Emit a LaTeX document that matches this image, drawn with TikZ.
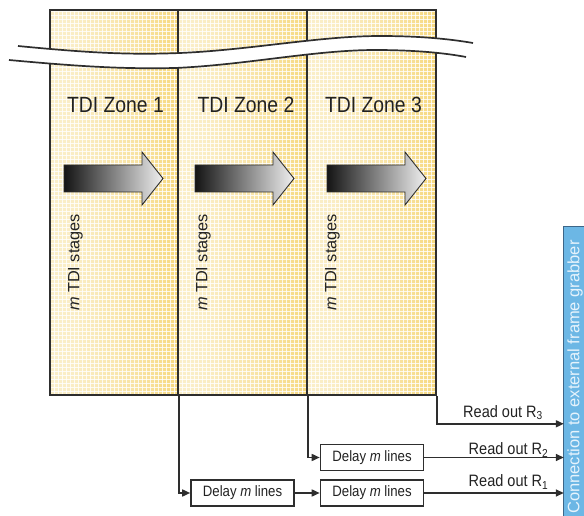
\documentclass[tikz,border=0pt]{standalone}
\usepackage{fontspec}
\setmainfont{Liberation Sans}
\newfontfamily\nf{Liberation Sans}[FakeStretch=0.88]
\usetikzlibrary{arrows.meta,calc}
\definecolor{txt}{HTML}{222222}
\definecolor{edge}{HTML}{2E2E2E}
\definecolor{barblue}{HTML}{6CB7E5}
\definecolor{baredge}{HTML}{3D6688}
\definecolor{bartext}{HTML}{E6F3FC}
\definecolor{za}{HTML}{FBF2D6}
\definecolor{zb}{HTML}{FAEDC4}
\definecolor{zc}{HTML}{F8E2A0}
\definecolor{zd}{HTML}{F6D674}
\definecolor{ze}{HTML}{F4CA50}
\definecolor{zf}{HTML}{F0BF2C}
\pgfdeclarehorizontalshading{zoneshade}{100bp}{color(0bp)=(za); color(35bp)=(zb); color(60bp)=(zc); color(80bp)=(zd); color(92bp)=(ze); color(100bp)=(zf)}
\tikzset{
  zone/.style={minimum width=#1, minimum height=385pt, inner sep=0pt,
    shading=zoneshade, draw=edge, line width=1.6pt,
    path picture={
      \foreach \i in {1,...,32}
        \draw[white, opacity=.8, line width=.9pt]
          ([xshift=\i*4pt]path picture bounding box.south west) --
          ([xshift=\i*4pt]path picture bounding box.north west);
      \foreach \j in {1,...,97}
        \draw[white, opacity=.8, line width=.9pt]
          ([yshift=\j*4pt]path picture bounding box.south west) --
          ([yshift=\j*4pt]path picture bounding box.south east);
    }},
  zonelabel/.style={anchor=base, text=txt, font=\nf\fontsize{22}{24}\selectfont},
  stages/.style={rotate=90, text=txt, font=\fontsize{16.3}{18}\selectfont, inner sep=0pt},
  bigarrow/.style={left color=black!92, right color=black!6, draw=edge, line width=.9pt},
  delaybox/.style={draw=edge, line width=1.6pt, fill=white, minimum width=103pt,
    minimum height=26pt, inner sep=0pt, text=txt, font=\nf\fontsize{15}{17}\selectfont},
  conn/.style={draw=edge, line width=1.6pt},
  arr/.style={conn, -{Triangle[length=8pt,width=7pt]}},
  readout/.style={anchor=base, text=txt, font=\nf\fontsize{16.5}{18}\selectfont, inner sep=0pt},
  breakline/.style={draw=edge, line width=1.7pt}
}
\begin{document}
\begin{tikzpicture}[x=1pt, y=-1pt]
\useasboundingbox (0,0) rectangle (584,516);

% zones
\node[zone=128pt] (z1) at (114,202.5) {};
\node[zone=129pt] (z2) at (242.5,202.5) {};
\node[zone=129pt] (z3) at (371.5,202.5) {};

% break band
\fill[white] (18,46) .. controls (90,53) and (130,55) .. (180,53)
  .. controls (250,50) and (320,36) .. (380,36)
  .. controls (420,36) and (450,39) .. (473,43)
  -- (466,57) .. controls (445,53) and (415,50) .. (375,50)
  .. controls (315,50) and (245,65) .. (175,68)
  .. controls (125,69) and (85,67) .. (9,60) -- cycle;
\draw[breakline] (18,46) .. controls (90,53) and (130,55) .. (180,53)
  .. controls (250,50) and (320,36) .. (380,36)
  .. controls (420,36) and (450,39) .. (473,43);
\draw[breakline] (9,60) .. controls (85,67) and (125,69) .. (175,68)
  .. controls (245,65) and (315,50) .. (375,50)
  .. controls (415,50) and (445,53) .. (466,57);

% labels
\node[zonelabel] (l1) at (115.5,112.5) {TDI Zone 1};
\node[zonelabel] (l2) at (246,112.5) {TDI Zone 2};
\node[zonelabel] (l3) at (373.5,112.5) {TDI Zone 3};

% big arrows
\foreach \x in {64,195,327}{
  \path[bigarrow] (\x,165) -- ++(78,0) -- ++(0,-13) -- ++(21,26.5) -- ++(-21,26.5)
    -- ++(0,-13) -- ++(-78,0) -- cycle;
}

% stage labels
\node[stages] (s1) at (75.5,262.5) {\textit{m} TDI stages};
\node[stages] (s2) at (203.5,262.5) {\textit{m} TDI stages};
\node[stages] (s3) at (332.5,262.5) {\textit{m} TDI stages};

% frame grabber bar
\node[fill=barblue, minimum width=20pt, minimum height=289pt, inner sep=0pt] (fg) at (574,371.5) {};
\draw[baredge, line width=1.2pt] (fg.south west) -- (fg.north west) -- (fg.north east);
\node[rotate=90, text=bartext, font=\fontsize{16.5}{18}\selectfont, inner sep=0pt] (fgt) at (575,377) {Connection to external frame grabber};

% delay boxes
\node[delaybox] (d1) at (242.5,493) {Delay \textit{m} lines};
\node[delaybox] (d2) at (372,493) {Delay \textit{m} lines};
\node[delaybox] (d3) at (372,457.5) {Delay \textit{m} lines};

% connectors
\draw[arr] (z1.south east) |- (d1.west);
\draw[arr] (d1.east) -- (d2.west);
\draw[arr] (z2.south east) |- (d3.west);
\draw[arr] (z3.south east) -- ++(0,28) coordinate (k3) -- (k3 -| fg.west);
\draw[arr] (d3.east) -- (d3.east -| fg.west);
\draw[arr] (d2.east) -- (d2.east -| fg.west);

% read out labels
\node[readout] (r3) at (503,417) {Read out R\textsubscript{3}};
\node[readout] (r2) at (508.5,454.5) {Read out R\textsubscript{2}};
\node[readout] (r1) at (508.5,486.5) {Read out R\textsubscript{1}};
\end{tikzpicture}
\end{document}
